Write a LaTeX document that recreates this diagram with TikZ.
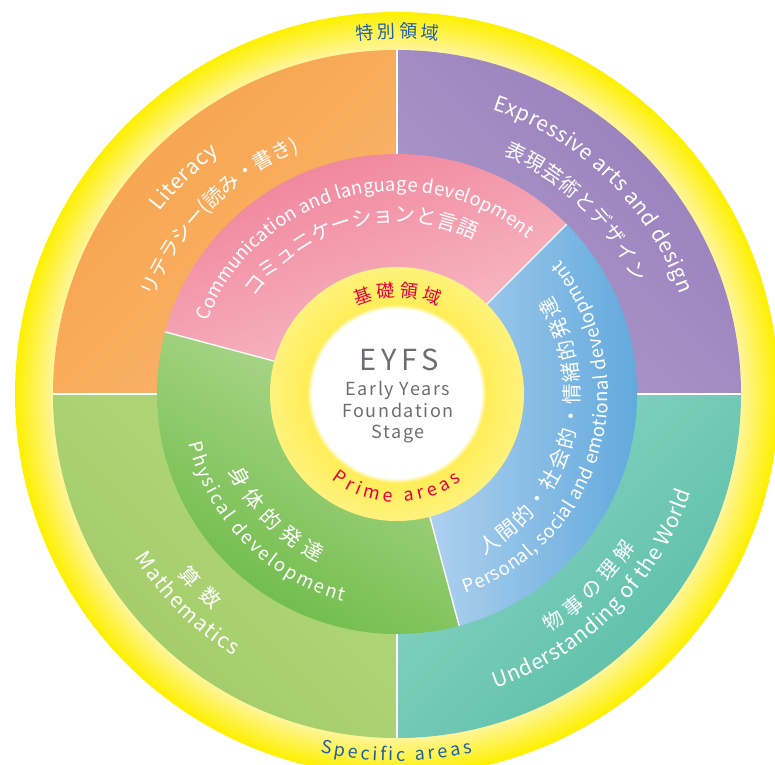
\documentclass[tikz,border=0pt]{standalone}
\usepackage{fontspec}
\setmainfont{Noto Sans CJK JP}
\newfontfamily\eyfsfont[LetterSpace=16]{Noto Sans CJK JP}
\newfontfamily\stagefont[LetterSpace=9]{Noto Sans CJK JP}
\usetikzlibrary{decorations.text}

\definecolor{ringbright}{HTML}{FFF000}
\definecolor{ringpale}{HTML}{FFF59C}
\definecolor{corepale}{HTML}{FFF27C}
\definecolor{coredeep}{HTML}{FFEE58}
\definecolor{litdark}{HTML}{F6A24A}
\definecolor{litlight}{HTML}{FAB66E}
\definecolor{expdark}{HTML}{977DBB}
\definecolor{explight}{HTML}{AD9BCB}
\definecolor{wlddark}{HTML}{56BDA5}
\definecolor{wldlight}{HTML}{8ED5C5}
\definecolor{mathdark}{HTML}{A0CB64}
\definecolor{mathlight}{HTML}{B4D880}
\definecolor{comdark}{HTML}{EF7E96}
\definecolor{comlight}{HTML}{F9C5CC}
\definecolor{psedark}{HTML}{58A5DB}
\definecolor{pselight}{HTML}{BAD6F0}
\definecolor{phydark}{HTML}{68B943}
\definecolor{phylight}{HTML}{B5DA93}
\definecolor{eyfsgrey}{HTML}{6D6E71}
\definecolor{primered}{HTML}{E8003D}
\definecolor{specblue}{HTML}{1E5FAA}

\newcommand\bigen{\fontsize{21}{24}\selectfont}
\newcommand\bigjp{\fontsize{20}{24}\selectfont}
\newcommand\miden{\fontsize{18.5}{22}\selectfont}
\newcommand\midjp{\fontsize{20.5}{24}\selectfont}
\newcommand\redfont{\fontsize{18}{20}\selectfont}
\newcommand\bluefont{\fontsize{18}{20}\selectfont}

\begin{document}
\begin{tikzpicture}[x=1pt,y=1pt,
    sep/.style={white,line width=1.3pt},
    arctext/.style={decorate,decoration={text along path,text align=fit to path,
        text color=white,text={#1}}}]
\useasboundingbox (-397,-370) rectangle (378,394);

% glowing outer ring
\foreach \r [evaluate=\r as \p using {(382-\r)*100/38}] in {382,381,...,344}
    \fill[ringpale!\p!ringbright] (0,0) circle (\r);

% specific areas
\shade[top color=litdark,bottom color=litlight,shading angle=45]
    (0,0) -- (90:344) arc (90:180:344) -- cycle;
\shade[top color=expdark,bottom color=explight,shading angle=-45]
    (0,0) -- (0:344) arc (0:90:344) -- cycle;
\shade[top color=mathlight,bottom color=mathdark,shading angle=-45]
    (0,0) -- (180:344) arc (180:270:344) -- cycle;
\shade[top color=wldlight,bottom color=wlddark,shading angle=45]
    (0,0) -- (270:344) arc (270:360:344) -- cycle;
\foreach \a in {0,90,180,270}
    \draw[sep] (\a:240) -- (\a:344);

% prime areas
\shade[top color=comdark,bottom color=comlight,shading angle=20]
    (0,0) -- (45:240) arc (45:165:240) -- cycle;
\shade[left color=pselight,right color=psedark]
    (0,0) -- (-75:240) arc (-75:45:240) -- cycle;
\shade[top color=phylight,bottom color=phydark,shading angle=-30]
    (0,0) -- (165:240) arc (165:285:240) -- cycle;
\foreach \a in {45,165,285}
    \draw[sep] (\a:127) -- (\a:240);

% core
\foreach \r [evaluate=\r as \p using {(127-\r)*100/37}] in {127,126,...,90}
    \fill[coredeep!\p!corepale] (0,0) circle (\r);
\foreach \r [evaluate=\r as \p using {(90-\r)*100/5}] in {90,89,...,85}
    \fill[white!\p!coredeep] (0,0) circle (\r);

\node[font=\eyfsfont\fontsize{29}{30}\selectfont,text=eyfsgrey,anchor=base] (eyfs) at (2,24) {EYFS};
\begin{scope}[every node/.style={font=\stagefont\fontsize{18}{20}\selectfont,text=eyfsgrey,anchor=base}]
    \node (early) at (1,-1) {Early Years};
    \node (found) at (1,-23) {Foundation};
    \node (stage) at (1,-44) {Stage};
\end{scope}

% ring titles
\path[arctext={|\redfont|基礎領域},decoration={text color=primered}]
    (114.3:97) arc (114.3:65:97);
\path[arctext={|\redfont|Prime areas},decoration={text color=primered}]
    (232.6:108) arc (232.6:306.6:108);
\path[arctext={|\bluefont|特別領域},decoration={text color=specblue}]
    (96.6:356) arc (96.6:83.3:356);
\path[arctext={|\bluefont|Specific areas},decoration={text color=specblue}]
    (257.9:367) arc (257.9:281.9:367);

% prime labels
\path[arctext={|\miden|Communication and language development}] (159:203) arc (159:50:203);
\path[arctext={|\midjp|コミュニケーションと言語}] (145.9:172) arc (145.9:63.4:172);
\path[arctext={|\midjp|人間的・社会的・情緒的発達}] (-61.6:183) arc (-61.6:32.3:183);
\path[arctext={|\miden|Personal, social and emotional development}] (-71:211) arc (-71:39.5:211);
\path[arctext={|\midjp|身体的発達}] (204.6:185) arc (204.6:245:185);
\path[arctext={|\miden|Physical development}] (193.5:214) arc (193.5:255.5:214);

% specific labels
\path[arctext={|\bigen|Literacy}] (142.5:299) arc (142.5:126.5:299);
\path[arctext={|\bigjp|リテラシー(読み・書き)}] (158.5:262) arc (158.5:112:262);
\path[arctext={|\bigen|Expressive arts and design}] (71.5:300) arc (71.5:19.5:300);
\path[arctext={|\bigjp|表現芸術とデザイン}] (66:262) arc (66:25:262);
\path[arctext={|\bigjp|算数}] (219.5:284) arc (219.5:229.6:284);
\path[arctext={|\bigen|Mathematics}] (212:309) arc (212:238:309);
\path[arctext={|\bigjp|物事の理解}] (302.5:283) arc (302.5:327.4:283);
\path[arctext={|\bigen|Understanding of the World}] (288.5:310) arc (288.5:341.5:310);
\end{tikzpicture}
\end{document}
